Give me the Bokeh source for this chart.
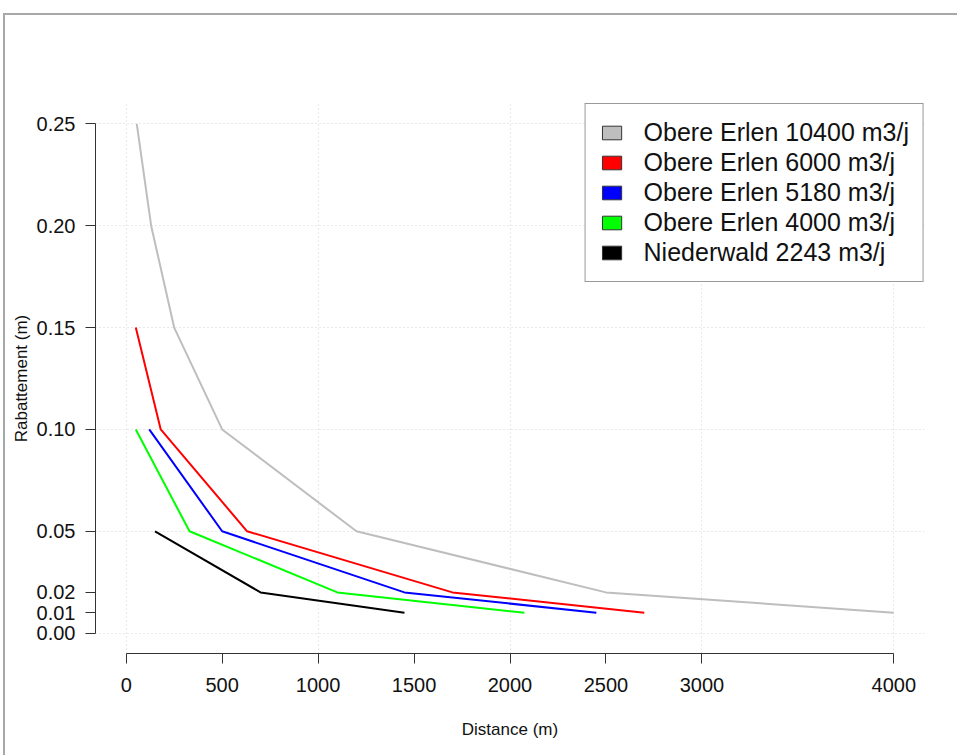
import math
from bokeh.plotting import figure
from bokeh.models import Range1d, FixedTicker, NumeralTickFormatter, Legend, LegendItem
from bokeh.embed import file_html
from bokeh.resources import INLINE

# ---- data ----
gray_x = [55, 130, 250, 500, 1200, 2500, 4000]
gray_y = [0.25, 0.20, 0.15, 0.10, 0.05, 0.02, 0.01]
red_x = [50, 180, 630, 1700, 2700]
red_y = [0.15, 0.10, 0.05, 0.02, 0.01]
blue_x = [120, 500, 1450, 2450]
blue_y = [0.10, 0.05, 0.02, 0.01]
green_x = [50, 330, 1100, 2075]
green_y = [0.10, 0.05, 0.02, 0.01]
black_x = [150, 700, 1450]
black_y = [0.05, 0.02, 0.01]

series_labels = ["Obere Erlen 10400 m3/j", "Obere Erlen 6000 m3/j", "Obere Erlen 5180 m3/j",
                 "Obere Erlen 4000 m3/j", "Niederwald 2243 m3/j"]
series_colors = ["#BEBEBE", "#FF0000", "#0000FF", "#00FF00", "#000000"]

x_ticks = [0, 500, 1000, 1500, 2000, 2500, 3000, 4000]
y_ticks = [0.00, 0.01, 0.02, 0.05, 0.10, 0.15, 0.20, 0.25]
x_grid = [0, 1000, 2000, 3000, 4000]
y_grid = [0.00, 0.05, 0.10, 0.15, 0.20, 0.25]

FONT = "Liberation Sans"

p = figure(width=957, height=755, output_backend="svg", toolbar_location=None,
           x_range=Range1d(-160, 4160), y_range=Range1d(-0.01, 0.26),
           min_border_left=95, min_border_right=33, min_border_top=103, min_border_bottom=102,
           x_axis_label="Distance (m)", y_axis_label="Rabattement (m)")
p.outline_line_color = None
p.background_fill_color = "white"
p.border_fill_color = None
# thin grey frame of the picture (left and top edges)
p.styles = {
    "background": "linear-gradient(#A8A8A8,#A8A8A8) 3px 13px / 2px 100% no-repeat, "
                  "linear-gradient(#A8A8A8,#A8A8A8) 3px 13px / 100% 2px no-repeat, white"
}

for ax, ticks, bounds in ((p.xaxis[0], x_ticks, (0, 4000)), (p.yaxis[0], y_ticks, (0, 0.25))):
    ax.ticker = FixedTicker(ticks=ticks)
    ax.bounds = bounds
    ax.axis_line_color = "#333333"
    ax.major_tick_line_color = "#333333"
    ax.major_tick_out = 10
    ax.major_tick_in = 0
    ax.minor_tick_line_color = None
    ax.major_label_text_font = FONT
    ax.major_label_text_font_size = "20px"
    ax.major_label_text_color = "#111111"
    ax.axis_label_text_font = FONT
    ax.axis_label_text_font_size = "17px"
    ax.axis_label_text_font_style = "normal"
    ax.axis_label_text_color = "#111111"

p.yaxis[0].formatter = NumeralTickFormatter(format="0.00")
p.yaxis[0].major_label_standoff = 10
p.yaxis[0].axis_label_standoff = 3
p.xaxis[0].major_label_standoff = 14
p.xaxis[0].axis_label_standoff = 25

p.xgrid.ticker = FixedTicker(ticks=x_grid)
p.ygrid.ticker = FixedTicker(ticks=y_grid)
for g in (p.xgrid[0], p.ygrid[0]):
    g.grid_line_color = "#D3D3D3"
    g.grid_line_dash = "1 3"
    g.grid_line_width = 1

xs = [gray_x, red_x, blue_x, green_x, black_x]
ys = [gray_y, red_y, blue_y, green_y, black_y]
for x, y, c in zip(xs, ys, series_colors):
    p.line(x, y, line_color=c, line_width=2)

# legend swatches (filled boxes as in R's fill legend)
items = []
for lab, c in zip(series_labels, series_colors):
    r = p.quad(left=[math.nan], right=[math.nan], top=[math.nan], bottom=[math.nan],
               fill_color=c, line_color="#333333", line_width=1)
    items.append(LegendItem(label=lab, renderers=[r]))

legend = Legend(items=items, location="top_right", margin=0, padding=14, spacing=1,
                glyph_width=24, glyph_height=17, label_standoff=20,
                label_text_font=FONT, label_text_font_size="25px", label_text_color="#111111",
                border_line_color="#333333", border_line_width=1,
                background_fill_color="white", background_fill_alpha=1)
p.add_layout(legend, "center")

open("out.html", "w").write(file_html(p, INLINE))
